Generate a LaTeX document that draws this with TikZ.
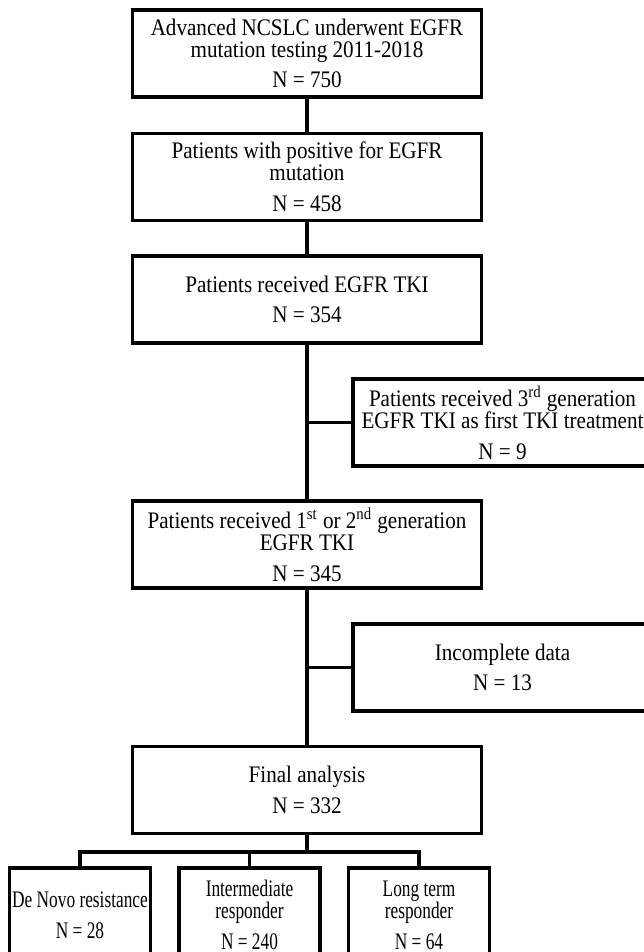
\documentclass[tikz,border=0pt]{standalone}
\usepackage{fontspec}
\setmainfont[FakeStretch=0.89]{Liberation Serif}
\newfontfamily\narrowserif[FakeStretch=0.73]{Liberation Serif}
\usetikzlibrary{positioning}

\begin{document}
\begin{tikzpicture}[x=0.02cm, y=-0.02cm, line width=1.8pt,
		flowbox/.style={draw, rectangle, align=center, inner sep=0pt, font=\fontsize{13.5}{12.5}\selectfont},
		mainbox/.style={flowbox, minimum width=6.98cm, minimum height=1.74cm},
		sidebox/.style={flowbox, minimum width=5.98cm, minimum height=1.74cm},
		groupbox/.style={flowbox, minimum width=2.82cm, minimum height=1.88cm, font=\narrowserif\fontsize{13.5}{12.5}\selectfont}]
			\clip (0, 0) rectangle (644, 952);
			\useasboundingbox (0, 0) rectangle (644, 952);
			\node [mainbox] (tested) at (307, 53.5) {Advanced NCSLC underwent EGFR\\ mutation testing 2011-2018\\[5pt] N = 750};
			\node [mainbox] (positive) at (307, 177) {Patients with positive for EGFR\\ mutation\\[5pt] N = 458};
			\node [mainbox] (tki) at (307, 299.5) {Patients received EGFR TKI\\[5pt] N = 354};
			\node [sidebox] (third) at (502.5, 422.5) {Patients received 3\textsuperscript{rd} generation\\ EGFR TKI as first TKI treatment\\[5pt] N = 9};
			\node [mainbox] (firstsecond) at (307, 544.5) {Patients received 1\textsuperscript{st} or 2\textsuperscript{nd} generation\\ EGFR TKI\\[5pt] N = 345};
			\node [sidebox] (incomplete) at (502.5, 667.5) {Incomplete data\\[5pt] N = 13};
			\node [mainbox] (final) at (307, 790) {Final analysis\\[5pt] N = 332};
			\node [groupbox] (denovo) at (80, 915) {De Novo resistance\\[5pt] N = 28};
			\node [groupbox] (intermediate) at (249.5, 915) {Intermediate\\ responder\\[5pt] N = 240};
			\node [groupbox] (longterm) at (419, 915) {Long term\\ responder\\[5pt] N = 64};
			\coordinate (split) at (307, 852);
			\draw (tested) -- (positive);
			\draw (positive) -- (tki);
			\draw (tki) -- (firstsecond);
			\draw (firstsecond) -- (final);
			\draw (third.west) -- (third.west -| tki.south);
			\draw (incomplete.west) -- (incomplete.west -| firstsecond.south);
			\draw (final.south) -- (split);
			\draw (denovo.north) -- (denovo.north |- split) -- (longterm.north |- split) -- (longterm.north);
			\draw (intermediate.north) -- (intermediate.north |- split);
		\end{tikzpicture}
\end{document}
